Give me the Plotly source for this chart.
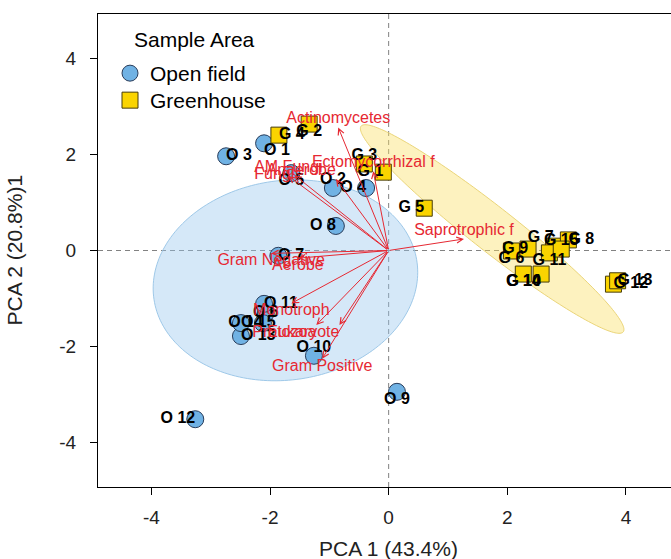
import numpy as np
import plotly.graph_objects as go

# ---------------- data ----------------
open_ids = ["O 1", "O 2", "O 3", "O 4", "O 5", "O 6", "O 7", "O 8",
            "O 9", "O 10", "O 11", "O 12", "O 13", "O 14", "O 15"]
open_pc1 = [-2.10, -0.94, -2.74, -0.38, -1.64, -2.07, -1.86, -0.89,
            0.14, -1.26, -2.10, -3.26, -2.49, -2.12, -2.49]
open_pc2 = [2.23, 1.30, 1.96, 1.30, 1.61, -1.30, -0.11, 0.51,
            -2.94, -2.19, -1.11, -3.51, -1.78, -1.51, -1.51]

green_ids = ["G 1", "G 2", "G 3", "G 4", "G 5", "G 6", "G 7", "G 8",
             "G 9", "G 10", "G 11", "G 12", "G 13", "G 14", "G 15"]
green_pc1 = [-0.09, -1.34, -0.41, -1.85, 0.60, 2.07, 2.78, 3.03,
             2.35, 2.57, 2.71, 3.79, 3.86, 2.27, 2.91]
green_pc2 = [1.63, 2.63, 1.80, 2.40, 0.88, -0.01, 0.09, 0.22,
             0.03, -0.49, -0.05, -0.70, -0.63, -0.49, 0.03]

loading_names = ["Actinomycetes", "Ectomycorrhizal f", "AM Fungi", "Anaerobe",
                 "Fungi", "Saprotrophic f", "Gram Negative", "Aerobe",
                 "Monotroph", "Protozoa", "Eukaryote", "Gram Positive"]
loading_pc1 = [-0.85, -0.26, -1.69, -0.89, -1.59, 1.27, -1.98, -1.53,
               -1.64, -1.22, -0.83, -1.12]
loading_pc2 = [2.56, 1.65, 1.55, 1.49, 1.57, 0.24, -0.06, -0.16,
               -1.10, -1.55, -1.55, -2.25]

x_ticks = [-4, -2, 0, 2, 4]
y_ticks = [-4, -2, 0, 2, 4]
x_title = "PCA 1 (43.4%)"
y_title = "PCA 2 (20.8%)1"
legend_title = "Sample Area"
group_names = ["Open field", "Greenhouse"]

# ellipse parameters (centre, axes) in PCA units
open_ell_center = (-1.74, -0.62)
open_ell_sd = (2.23, 2.09)
open_ell_r = 0.08
green_ell_center = (1.745, 0.447)
green_ell_major = (-2.21, 2.14)
green_ell_minor = (0.229, 0.360)

# ---------------- styles ----------------
open_textpos = ["bottom right", "top center", "middle right", "middle left",
                "bottom center", "middle center", "middle right", "middle left",
                "bottom center", "top center", "middle right", "middle left",
                "middle right", "middle left", "middle right"]
green_textpos = ["middle left", "bottom center", "top center", "middle right",
                 "middle left", "bottom center", "top left", "middle right",
                 "middle left", "bottom left", "bottom center", "middle right",
                 "middle right", "bottom center", "top center"]
loading_textpos = ["top center", "top center", "top center", "top left",
                   "middle left", "top center", "bottom center", "bottom center",
                   "bottom center", "bottom left", "bottom left", "bottom center"]

FONT = "Liberation Sans, Arial, sans-serif"
RED = "rgb(230,40,50)"
BLUE = "rgb(112,178,228)"
GOLD = "rgb(250,212,0)"

X_RANGE = [-4.90, 4.76]
Y_RANGE = [-4.92, 4.92]

fig = go.Figure()

# ellipses
t = np.linspace(0, 2 * np.pi, 200)
ox = open_ell_center[0] + open_ell_sd[0] * np.cos(t)
oy = open_ell_center[1] + open_ell_sd[1] * (open_ell_r * np.cos(t) + np.sqrt(1 - open_ell_r ** 2) * np.sin(t))
gx = green_ell_center[0] + green_ell_major[0] * np.cos(t) + green_ell_minor[0] * np.sin(t)
gy = green_ell_center[1] + green_ell_major[1] * np.cos(t) + green_ell_minor[1] * np.sin(t)


def path_of(xs, ys):
    pts = " L ".join(f"{a:.4f},{b:.4f}" for a, b in zip(xs, ys))
    return "M " + pts + " Z"


shapes = [
    dict(type="path", path=path_of(ox, oy), xref="x", yref="y", layer="below",
         fillcolor="rgba(150,198,238,0.40)", line=dict(color="rgba(150,195,230,0.9)", width=1)),
    dict(type="path", path=path_of(gx, gy), xref="x", yref="y", layer="below",
         fillcolor="rgba(250,222,95,0.40)", line=dict(color="rgba(232,208,110,0.9)", width=1)),
    dict(type="line", xref="x", yref="paper", x0=0, x1=0, y0=0, y1=1, layer="below",
         line=dict(color="rgb(130,130,130)", width=1, dash="5px,4px")),
    dict(type="line", xref="paper", yref="y", x0=0, x1=1, y0=0, y1=0, layer="below",
         line=dict(color="rgb(130,130,130)", width=1, dash="5px,4px")),
]

# points
fig.add_trace(go.Scatter(
    x=open_pc1, y=open_pc2, mode="markers", name=group_names[0], legend="legend",
    marker=dict(symbol="circle", size=17, color=BLUE,
                line=dict(color="rgb(40,60,90)", width=1)),
))
fig.add_trace(go.Scatter(
    x=green_pc1, y=green_pc2, mode="markers", name=group_names[1], legend="legend2",
    marker=dict(symbol="square", size=16, color=GOLD,
                line=dict(color="rgb(70,60,10)", width=1)),
))

# point labels
fig.add_trace(go.Scatter(
    x=open_pc1, y=open_pc2, mode="text", text=open_ids, textposition=open_textpos,
    textfont=dict(family=FONT, size=16, color="black", weight="bold"),
    showlegend=False, hoverinfo="skip",
))
fig.add_trace(go.Scatter(
    x=green_pc1, y=green_pc2, mode="text", text=green_ids, textposition=green_textpos,
    textfont=dict(family=FONT, size=16, color="black", weight="bold"),
    showlegend=False, hoverinfo="skip",
))

# loading labels
fig.add_trace(go.Scatter(
    x=loading_pc1, y=loading_pc2, mode="text", text=loading_names,
    textposition=loading_textpos,
    textfont=dict(family=FONT, size=16, color=RED),
    showlegend=False, hoverinfo="skip",
))

annotations = []
for lx, ly in zip(loading_pc1, loading_pc2):
    annotations.append(dict(
        x=lx, y=ly, ax=0, ay=0, xref="x", yref="y", axref="x", ayref="y",
        text="", showarrow=True, arrowhead=5, arrowsize=1.2, arrowwidth=1,
        arrowcolor=RED, standoff=0, startstandoff=0,
    ))

annotations.append(dict(
    text=legend_title, xref="paper", yref="paper",
    x=(132 - 98) / 573, y=(487 - 40) / 473, xanchor="left", yanchor="middle",
    showarrow=False, font=dict(family=FONT, size=21, color="black"),
))
annotations.append(dict(
    text=x_title, xref="x", yref="paper", x=0, y=(487 - 548) / 473,
    xanchor="center", yanchor="middle", showarrow=False,
    font=dict(family=FONT, size=21, color="#222"),
))
annotations.append(dict(
    text=y_title, xref="paper", yref="paper", x=(14 - 98) / 573, y=0.5,
    xanchor="center", yanchor="middle", textangle=-90, showarrow=False,
    font=dict(family=FONT, size=21, color="#222"),
))

axis_common = dict(
    showgrid=False, zeroline=False, showline=True, linecolor="black", linewidth=1.3,
    ticks="outside", ticklen=7, tickcolor="black", tickwidth=1.3,
    tickfont=dict(family=FONT, size=19, color="#222"),
)

legend_common = dict(xanchor="left", yanchor="top", bgcolor="rgba(0,0,0,0)",
                     font=dict(family=FONT, size=21, color="black"))

fig.update_layout(
    width=671, height=559, autosize=False,
    margin=dict(l=98, r=0, t=14, b=72, pad=0),
    paper_bgcolor="white", plot_bgcolor="white",
    font=dict(family=FONT),
    shapes=shapes, annotations=annotations,
    xaxis=dict(range=X_RANGE, tickvals=x_ticks, ticktext=[str(v) for v in x_ticks],
               mirror=True, ticklabelstandoff=6, **axis_common),
    yaxis=dict(range=Y_RANGE, tickvals=y_ticks, ticktext=[str(v) for v in y_ticks],
               mirror=False, ticklabelstandoff=10, **axis_common),
    legend=dict(x=(110 - 98) / 573, y=(487 - 53) / 473, **legend_common),
    legend2=dict(x=(110 - 98) / 573, y=(487 - 80) / 473, **legend_common),
    showlegend=True,
)

fig.write_html("out.html")
